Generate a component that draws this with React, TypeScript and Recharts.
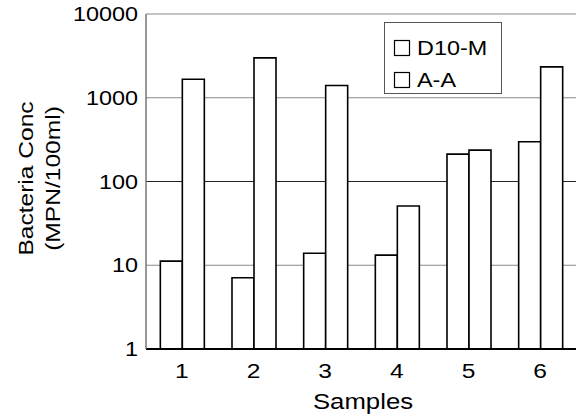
import React from "react";
import {
  BarChart,
  Bar,
  XAxis,
  YAxis,
  CartesianGrid,
  Legend,
} from "recharts";

const samples = ["1", "2", "3", "4", "5", "6"];
const d10m = [11.2, 7.1, 13.9, 13.2, 212, 298];
const aa = [1660, 2990, 1400, 51, 237, 2340];
const yTicks = [1, 10, 100, 1000, 10000];
const seriesNames = ["D10-M", "A-A"];

const data = samples.map((s, i) => ({ sample: s, d10m: d10m[i], aa: aa[i] }));

const FONT = "'Liberation Sans', Arial, Helvetica, sans-serif";
const SX = 1.17;

const YTick = (props: any) => {
  const { x, y, payload } = props;
  return (
    <g transform={`translate(${x - 8},${y})`}>
      <text
        transform={`scale(${SX},1)`}
        x={0}
        y={0}
        dy={7}
        textAnchor="end"
        fontSize={20}
        fontFamily={FONT}
        fill="#000"
      >
        {payload.value}
      </text>
    </g>
  );
};

const XTick = (props: any) => {
  const { x, y, payload } = props;
  return (
    <g transform={`translate(${x},${y})`}>
      <text
        transform={`scale(${SX},1)`}
        x={0}
        y={29}
        textAnchor="middle"
        fontSize={21}
        fontFamily={FONT}
        fill="#000"
      >
        {payload.value}
      </text>
    </g>
  );
};

const YLabel = (props: any) => {
  const vb = props.viewBox || { x: 0, y: 14, width: 146, height: 335 };
  const cy = vb.y + vb.height / 2 - 3;
  return (
    <g>
      <g transform={`translate(33,${cy}) rotate(-90) scale(${SX},1)`}>
        <text x={0} y={0} textAnchor="middle" fontSize={21} fontFamily={FONT} fill="#000">
          Bacteria Conc
        </text>
      </g>
      <g transform={`translate(60,${cy}) rotate(-90) scale(${SX},1)`}>
        <text x={0} y={0} textAnchor="middle" fontSize={21} fontFamily={FONT} fill="#000">
          (MPN/100ml)
        </text>
      </g>
    </g>
  );
};

const XLabel = (props: any) => {
  const vb = props.viewBox || { x: 146, y: 349, width: 430, height: 67 };
  const cx = vb.x + vb.width / 2 + 2;
  return (
    <g transform={`translate(${cx},409) scale(${SX},1)`}>
      <text x={0} y={0} textAnchor="middle" fontSize={22} fontFamily={FONT} fill="#000">
        Samples
      </text>
    </g>
  );
};

const renderLegend = () => {
  return (
    <svg width={118} height={72} style={{ display: "block" }}>
      <rect x={0.5} y={0.5} width={117} height={71} fill="#fff" stroke="#555" strokeWidth={1} />
      {seriesNames.map((name, i) => (
        <g key={name}>
          <rect x={10.5} y={18.5 + i * 32} width={15} height={15} fill="#fff" stroke="#000" strokeWidth={1.2} />
          <g transform={`translate(33,${33 + i * 32}) scale(${SX},1)`}>
            <text x={0} y={0} fontSize={20} fontFamily={FONT} fill="#000">
              {name}
            </text>
          </g>
        </g>
      ))}
    </svg>
  );
};

const GridLine = (props: any) => {
  const { x1, y1, x2, y2, index } = props;
  const stroke = index === 2 ? "#222" : "#888";
  return <line x1={x1} y1={y1} x2={x2} y2={y2} stroke={stroke} strokeWidth={1.2} />;
};

export default function App() {
  return (
    <div style={{ position: "fixed", left: 0, top: 0, width: 580, height: 416, background: "#fff" }}>
      <BarChart
        width={580}
        height={416}
        data={data}
        margin={{ top: 14, right: 4, bottom: 0, left: 0 }}
        barCategoryGap="20%"
        barGap={0}
      >
        <CartesianGrid vertical={false} horizontal={GridLine as any} />
        <XAxis
          dataKey="sample"
          height={67}
          tick={<XTick />}
          tickLine={false}
          tickSize={0}
          tickMargin={0}
          axisLine={{ stroke: "#000", strokeWidth: 2 }}
          label={<XLabel />}
        />
        <XAxis
          xAxisId="top"
          dataKey="sample"
          orientation="top"
          height={0}
          tick={false}
          tickLine={false}
          axisLine={{ stroke: "#000", strokeWidth: 2 }}
        />
        <YAxis
          scale="log"
          type="number"
          domain={[1, 10000]}
          ticks={yTicks}
          allowDataOverflow
          width={146}
          tick={<YTick />}
          tickLine={false}
          tickSize={0}
          tickMargin={0}
          axisLine={{ stroke: "#777", strokeWidth: 1.5 }}
          label={<YLabel />}
        />
        <YAxis
          yAxisId="right"
          orientation="right"
          type="number"
          domain={[0, 1]}
          width={0}
          tick={false}
          tickLine={false}
          axisLine={{ stroke: "#000", strokeWidth: 2 }}
        />
        <Legend
          layout="vertical"
          align="center"
          verticalAlign="middle"
          wrapperStyle={{ position: "absolute", left: 384, top: 22, width: 118, height: 72 }}
          content={renderLegend}
        />
        <Bar dataKey="d10m" name="D10-M" fill="#fff" stroke="#000" strokeWidth={1.6} isAnimationActive={false} />
        <Bar dataKey="aa" name="A-A" fill="#fff" stroke="#000" strokeWidth={1.6} isAnimationActive={false} />
      </BarChart>
    </div>
  );
}
